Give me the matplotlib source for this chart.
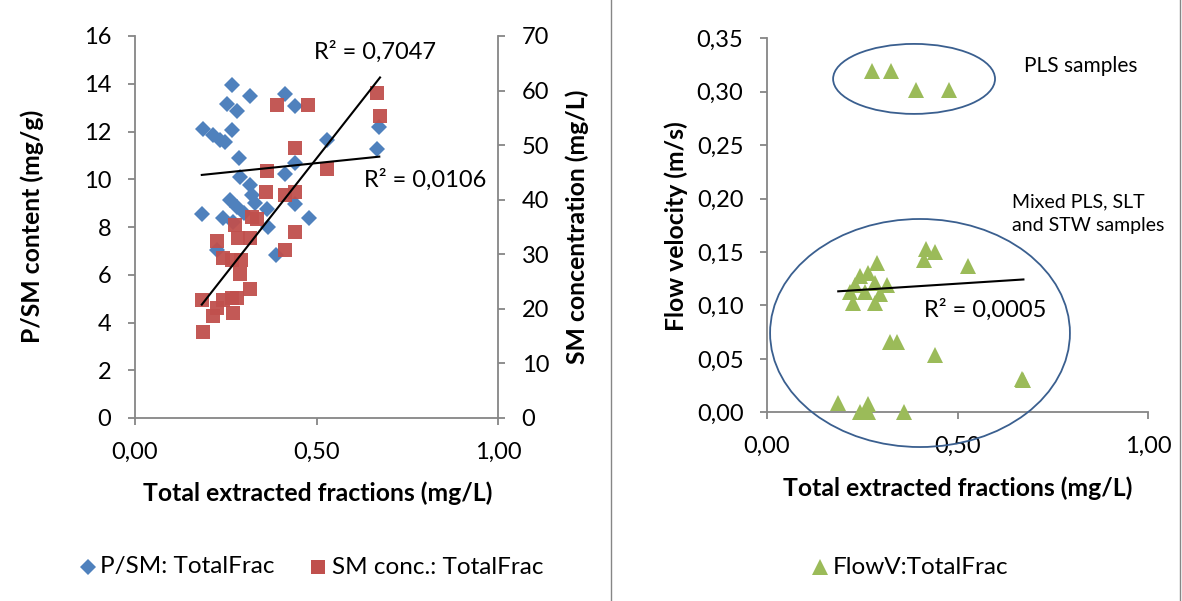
import numpy as np
import matplotlib
matplotlib.use("Agg")
import matplotlib.pyplot as plt
from matplotlib.patches import Ellipse
from matplotlib.ticker import FuncFormatter, MultipleLocator
from matplotlib.lines import Line2D

# ---------------- data ----------------
psm_x = [0.266, 0.317, 0.413, 0.441, 0.253, 0.280, 0.188, 0.266, 0.216, 0.234,
         0.248, 0.528, 0.673, 0.668, 0.287, 0.441, 0.413, 0.289, 0.317, 0.321,
         0.262, 0.282, 0.363, 0.441, 0.184, 0.243, 0.480, 0.367, 0.225, 0.388,
         0.300, 0.330, 0.270]
psm_y = [13.93, 13.50, 13.55, 13.05, 13.14, 12.86, 12.12, 12.05, 11.84, 11.66,
         11.56, 11.63, 12.19, 11.28, 10.90, 10.68, 10.24, 10.10, 9.75, 9.33,
         9.12, 8.84, 8.77, 8.98, 8.56, 8.36, 8.36, 8.00, 7.03, 6.82,
         8.60, 9.00, 8.20]

sm_x = [0.390, 0.477, 0.441, 0.363, 0.361, 0.441, 0.413, 0.668, 0.675, 0.528,
        0.441, 0.321, 0.335, 0.275, 0.227, 0.285, 0.318, 0.413, 0.243, 0.266,
        0.291, 0.288, 0.317, 0.184, 0.243, 0.266, 0.280, 0.227, 0.271, 0.216,
        0.188]
sm_y = [57.4, 57.4, 49.4, 45.2, 41.5, 41.5, 40.9, 59.6, 55.3, 45.6,
        34.0, 36.9, 36.4, 35.4, 32.5, 32.9, 32.9, 30.7, 29.4, 29.0,
        29.0, 26.4, 23.6, 21.6, 21.6, 21.9, 21.9, 20.1, 19.2, 18.6,
        15.8]

flow_x = [0.275, 0.325, 0.390, 0.479,
          0.417, 0.441, 0.411, 0.528, 0.288, 0.244, 0.266, 0.283, 0.316, 0.231,
          0.218, 0.257, 0.297, 0.227, 0.283, 0.323, 0.342, 0.441, 0.673, 0.668,
          0.187, 0.266, 0.244, 0.266, 0.360]
flow_y = [0.319, 0.319, 0.302, 0.302,
          0.153, 0.150, 0.1425, 0.137, 0.140, 0.128, 0.130, 0.121, 0.119, 0.119,
          0.113, 0.113, 0.111, 0.102, 0.102, 0.066, 0.066, 0.054, 0.030, 0.031,
          0.009, 0.008, 0.000, 0.000, 0.000]

r2_labels = ["R\u00b2 = 0,7047", "R\u00b2 = 0,0106", "R\u00b2 = 0,0005"]
legend_labels = ["P/SM: TotalFrac", "SM conc.: TotalFrac", "FlowV:TotalFrac"]

# ---------------- style ----------------
plt.rcParams['font.family'] = ['Lato', 'DejaVu Sans']
W, H = 1182, 601
BLUE = '#4F81BD'
RED = '#C0504D'
GREEN = '#9BBB59'
GREY = '#868686'
TICK_FS = 17
LAB_FS = 17.8
LEG_FS = 17.5

fig = plt.figure(figsize=(W / 100, H / 100), dpi=100)


def fx(px):
    return px / W


def fy(py):
    return 1 - py / H


def comma(v, p):
    return f"{v:.2f}".replace('.', ',')


def style_axis(ax, spines):
    for s in ['left', 'right', 'top', 'bottom']:
        ax.spines[s].set_visible(s in spines)
        ax.spines[s].set_color(GREY)
        ax.spines[s].set_linewidth(1.3)
    ax.tick_params(direction='out', length=5, width=1.3, color=GREY,
                   labelsize=TICK_FS, pad=12)


# ---------------- left chart ----------------
ax = fig.add_axes([fx(135), fy(418), fx(498 - 135), (418 - 36) / H])
ax.set_xlim(0, 1)
ax.set_ylim(0, 16)
ax.xaxis.set_major_locator(MultipleLocator(0.5))
ax.xaxis.set_major_formatter(FuncFormatter(comma))
ax.yaxis.set_major_locator(MultipleLocator(2))
style_axis(ax, ['left', 'bottom'])
ax.patch.set_visible(False)

ax2 = ax.twinx()
ax2.set_ylim(0, 70)
ax2.yaxis.set_major_locator(MultipleLocator(10))
style_axis(ax2, ['right'])

ax.plot(psm_x, psm_y, linestyle='none', marker='D', ms=8, color=BLUE,
        markeredgewidth=0, zorder=3, clip_on=False)
ax2.plot(sm_x, sm_y, linestyle='none', marker='s', ms=10.5, color=RED,
         markeredgewidth=0, alpha=0.95, zorder=3, clip_on=False)

# linear trend lines
xr = np.array([min(psm_x), max(psm_x)])
c1 = np.polyfit(psm_x, psm_y, 1)
ax2.plot(xr, np.polyval(c1, xr), color='black', lw=1.5, zorder=5,
         transform=ax.transData)
xr2 = np.array([min(sm_x), max(sm_x)])
c2 = np.polyfit(sm_x, sm_y, 1)
ax2.plot(xr2, np.polyval(c2, xr2), color='black', lw=1.5, zorder=5)

fig.text(fx(318), fy(493), 'Total extracted fractions (mg/L)', fontsize=LAB_FS,
         fontweight='bold', ha='center', va='center')
fig.text(fx(32), fy(226), 'P/SM content (mg/g)', fontsize=LAB_FS,
         fontweight='bold', ha='center', va='center', rotation=90)
fig.text(fx(577), fy(227), 'SM concentration (mg/L)', fontsize=LAB_FS,
         fontweight='bold', ha='center', va='center', rotation=90)

fig.text(fx(375), fy(52), r2_labels[0], fontsize=TICK_FS, ha='center', va='center')
fig.text(fx(425), fy(180), r2_labels[1], fontsize=TICK_FS, ha='center', va='center')

# ---------------- right chart ----------------
axr = fig.add_axes([fx(767), fy(412.3), fx(1148 - 767), (412.3 - 38.3) / H])
axr.set_xlim(0, 1)
axr.set_ylim(0, 0.35)
axr.xaxis.set_major_locator(MultipleLocator(0.5))
axr.xaxis.set_major_formatter(FuncFormatter(comma))
axr.yaxis.set_major_locator(MultipleLocator(0.05))
axr.yaxis.set_major_formatter(FuncFormatter(comma))
style_axis(axr, ['left', 'bottom'])

axr.plot(flow_x, flow_y, linestyle='none', marker='^', ms=11, color=GREEN,
         markeredgewidth=0, zorder=3, clip_on=False)
xr3 = np.array([min(flow_x), max(flow_x)])
c3 = np.polyfit(flow_x, flow_y, 1)
axr.plot(xr3, np.polyval(c3, xr3), color='black', lw=1.5, zorder=5)

fig.text(fx(958), fy(488), 'Total extracted fractions (mg/L)', fontsize=LAB_FS,
         fontweight='bold', ha='center', va='center')
fig.text(fx(676), fy(226), 'Flow velocity (m/s)', fontsize=LAB_FS,
         fontweight='bold', ha='center', va='center', rotation=90)

for (cx, cy, w, h) in [(0.386, 0.312, 0.425, 0.0655),
                       (0.4016, 0.0742, 0.787, 0.2134)]:
    axr.add_patch(Ellipse((cx, cy), w, h, fill=False, edgecolor='#3A5F8F',
                          lw=1.3, clip_on=False, zorder=4))

fig.text(fx(985), fy(310), r2_labels[2], fontsize=TICK_FS, ha='center', va='center')
fig.text(fx(1081), fy(66), 'PLS samples', fontsize=15, ha='center', va='center')
fig.text(fx(1012), fy(214), 'Mixed PLS, SLT\nand STW samples', fontsize=14,
         ha='left', va='center', linespacing=1.45)

# ---------------- legends ----------------
leg_items = [(88, 'D', 8, BLUE, 100, legend_labels[0]),
             (318, 's', 10.5, RED, 332, legend_labels[1]),
             (820, '^', 11, GREEN, 833, legend_labels[2])]
for (mx, mk, ms, col, tx, lab) in leg_items:
    fig.add_artist(Line2D([fx(mx)], [fy(567)], linestyle='none', marker=mk,
                          ms=ms, color=col, markeredgewidth=0,
                          transform=fig.transFigure))
    fig.text(fx(tx), fy(567), lab, fontsize=LEG_FS, ha='left', va='center')

# panel borders
for px in [611, 1180]:
    fig.add_artist(Line2D([fx(px), fx(px)], [0, 1], color=GREY, lw=1.0))

fig.savefig('out.png', dpi=100)
